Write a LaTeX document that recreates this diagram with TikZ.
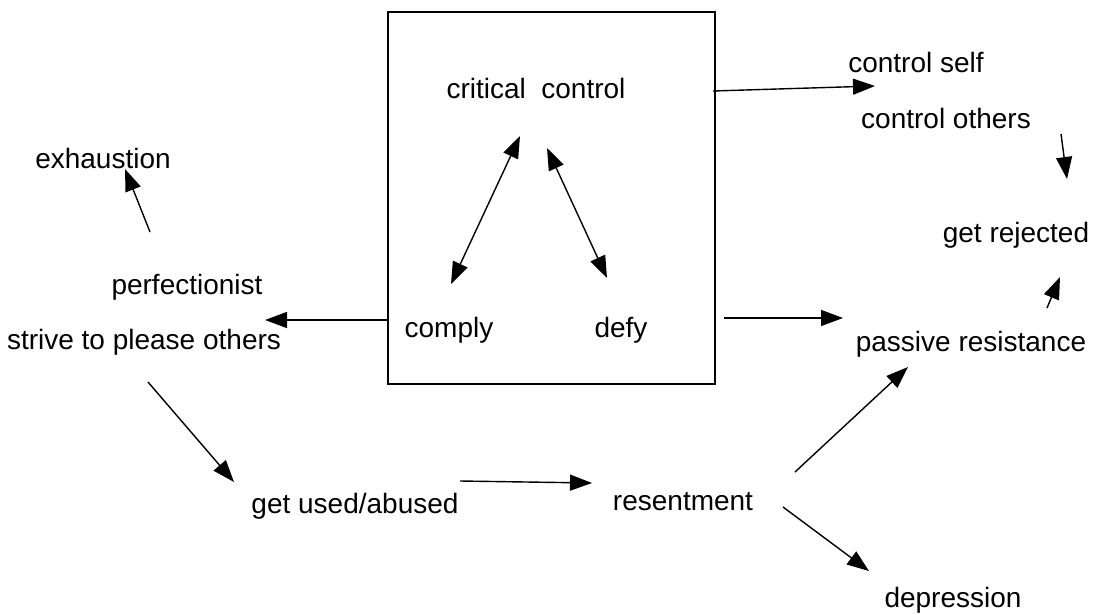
\documentclass[tikz,border=0pt]{standalone}
\usepackage{fontspec}
\setmainfont{Liberation Sans}
\usetikzlibrary{arrows.meta}
\tikzset{
  lbl/.style={inner sep=0pt, font=\fontsize{14}{16}\selectfont},
  arr/.style={-{Triangle[length=11pt,width=8pt]}, line width=0.7pt},
  twoarr/.style={{Triangle[length=11pt,width=8pt]}-{Triangle[length=11pt,width=8pt]}, line width=0.7pt}
}

\begin{document}
\begin{tikzpicture}[x=0.5pt,y=-0.5pt]
            \useasboundingbox (0,0) rectangle (1097,615);
            \draw[line width=1pt] (388,12) rectangle (715,384);
            \node[lbl] (crit) at (536,88) {critical\ \ control};
            \node[lbl] (comply) at (449,330) {comply};
            \node[lbl] (defy) at (621,330) {defy};
            \node[lbl] (cself) at (916,62) {control self};
            \node[lbl] (cothers) at (946,118) {control others};
            \node[lbl] (exh) at (103,158) {exhaustion};
            \node[lbl] (rej) at (1016,235) {get rejected};
            \node[lbl] (perf) at (187,287) {perfectionist};
            \node[lbl] (strive) at (144,342) {strive to please others};
            \node[lbl] (passive) at (971,344) {passive resistance};
            \node[lbl] (used) at (355,506) {get used/abused};
            \node[lbl] (resent) at (683,502) {resentment};
            \node[lbl] (depr) at (953,600) {depression};
            \coordinate (cc1) at (520,136);
            \coordinate (cp1) at (451,284);
            \coordinate (cc2) at (547,148);
            \coordinate (df1) at (607,278);
            \coordinate (bx1) at (713,91);
            \coordinate (cs1) at (875,86);
            \coordinate (bx2) at (388,320);
            \coordinate (st1) at (265,320);
            \coordinate (bx3) at (724,318);
            \coordinate (pr1) at (843,318);
            \coordinate (co1) at (1061,134);
            \coordinate (rj1) at (1067,179);
            \coordinate (pr2) at (1047,308);
            \coordinate (rj2) at (1060,277);
            \coordinate (pf1) at (150,232);
            \coordinate (ex1) at (125,169);
            \coordinate (st2) at (148,382);
            \coordinate (us1) at (234,482);
            \coordinate (us2) at (460,481);
            \coordinate (rs1) at (592,483);
            \coordinate (rs2) at (795,472);
            \coordinate (pr3) at (908,367);
            \coordinate (rs3) at (783,507);
            \coordinate (dp1) at (869,571);
            \draw[twoarr] (cc1)--(cp1);
            \draw[twoarr] (cc2)--(df1);
            \draw[arr] (bx1)--(cs1);
            \draw[arr] (bx2)--(st1);
            \draw[arr] (bx3)--(pr1);
            \draw[arr] (co1)--(rj1);
            \draw[arr] (pr2)--(rj2);
            \draw[arr] (pf1)--(ex1);
            \draw[arr] (st2)--(us1);
            \draw[arr] (us2)--(rs1);
            \draw[arr] (rs2)--(pr3);
            \draw[arr] (rs3)--(dp1);
        \end{tikzpicture}
\end{document}
